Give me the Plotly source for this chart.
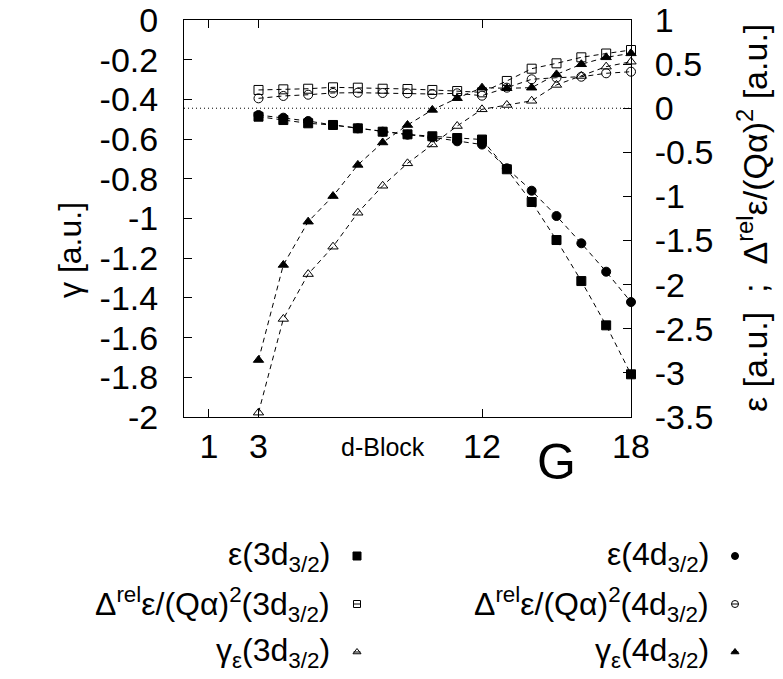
import plotly.graph_objects as go

# ---------------- data ----------------
elements = list(range(3, 19))  # group number G

eps_3d = [-0.096, -0.134, -0.171, -0.190, -0.228, -0.266, -0.296, -0.318, -0.338, -0.355,
          -0.692, -1.063, -1.494, -1.959, -2.461, -3.016]
eps_4d = [-0.077, -0.107, -0.145, -0.190, -0.228, -0.266, -0.300, -0.330, -0.375, -0.412,
          -0.681, -0.935, -1.222, -1.531, -1.853, -2.197]
delta_3d = [0.207, 0.214, 0.221, 0.237, 0.233, 0.221, 0.218, 0.207, 0.195, 0.180,
            0.309, 0.448, 0.509, 0.577, 0.620, 0.660]
delta_4d = [0.112, 0.139, 0.153, 0.173, 0.176, 0.173, 0.169, 0.161, 0.169, 0.142,
            0.233, 0.328, 0.346, 0.357, 0.396, 0.414]
gamma_3d = [-1.978, -1.506, -1.280, -1.142, -0.971, -0.835, -0.722, -0.627, -0.534, -0.450,
            -0.428, -0.407, -0.327, -0.282, -0.235, -0.210]
gamma_4d = [-1.713, -1.234, -1.016, -0.887, -0.730, -0.617, -0.529, -0.453, -0.394, -0.341,
            -0.344, -0.341, -0.274, -0.223, -0.188, -0.168]

x_tickvals = [1, 3, 12, 18]
x_ticktext = ["1", "3", "12", "18"]
gamma_tickvals = [0, -0.2, -0.4, -0.6, -0.8, -1.0, -1.2, -1.4, -1.6, -1.8, -2.0]
gamma_ticktext = ["0", "-0.2", "-0.4", "-0.6", "-0.8", "-1", "-1.2", "-1.4", "-1.6", "-1.8", "-2"]
eps_tickvals = [1, 0.5, 0, -0.5, -1, -1.5, -2, -2.5, -3, -3.5]
eps_ticktext = ["1", "0.5", "0", "-0.5", "-1", "-1.5", "-2", "-2.5", "-3", "-3.5"]

labels_3d = ["ε(3d<sub>3/2</sub>)",
             "Δ<sup>rel</sup>ε/(Qα)<sup>2</sup>(3d<sub>3/2</sub>)",
             "γ<sub>ε</sub>(3d<sub>3/2</sub>)"]
labels_4d = ["ε(4d<sub>3/2</sub>)",
             "Δ<sup>rel</sup>ε/(Qα)<sup>2</sup>(4d<sub>3/2</sub>)",
             "γ<sub>ε</sub>(4d<sub>3/2</sub>)"]

# ---------------- layout constants (pixels) ----------------
W, H = 783, 679
PL, PR, PT, PB = 184, 631, 20, 417
FONT = "Liberation Sans, Arial, sans-serif"
TICKFONT = 34

series = [
    (eps_3d, "y2", "square", labels_3d[0]),
    (eps_4d, "y2", "circle", labels_4d[0]),
    (delta_3d, "y2", "square-open", labels_3d[1]),
    (delta_4d, "y2", "circle-open", labels_4d[1]),
    (gamma_3d, "y", "triangle-up-open", labels_3d[2]),
    (gamma_4d, "y", "triangle-up", labels_4d[2]),
]

fig = go.Figure()
for vals, yax, sym, name in series:
    fig.add_trace(go.Scatter(
        x=elements, y=vals, xaxis="x", yaxis=yax, mode="lines+markers", name=name,
        showlegend=False, cliponaxis=False,
        line=dict(color="black", width=1, dash="5px,4px"),
        marker=dict(symbol=sym, size=9, color="black", line=dict(color="black", width=1)),
    ))

# ---- custom gnuplot-style key (text right-aligned, sample to the right) ----
key_rows = [556, 604, 652]
key_cols = [(332, 357), (711, 735)]
key_syms = [["square", "square-open", "triangle-up-open"],
            ["circle", "circle-open", "triangle-up"]]
key_sizes = {"square": 8, "circle": 7, "square-open": 7, "circle-open": 7,
             "triangle-up-open": 7, "triangle-up": 7}
annotations = []
for ci, (tx, kx) in enumerate(key_cols):
    labs = labels_3d if ci == 0 else labels_4d
    for ri, ky in enumerate(key_rows):
        sym = key_syms[ci][ri]
        fig.add_trace(go.Scatter(x=[kx - 3.5, kx + 3.5], y=[ky, ky], xaxis="x3", yaxis="y3",
                                 mode="lines", line=dict(color="black", width=1),
                                 showlegend=False, hoverinfo="skip"))
        fig.add_trace(go.Scatter(x=[kx], y=[ky], xaxis="x3", yaxis="y3", mode="markers",
                                 marker=dict(symbol=sym, size=key_sizes[sym], color="black",
                                             line=dict(color="black", width=1)),
                                 showlegend=False, hoverinfo="skip"))
        annotations.append(dict(x=tx, y=ky, xref="x3", yref="y3", text=labs[ri],
                                showarrow=False, xanchor="right", yanchor="middle",
                                font=dict(family=FONT, size=32, color="black")))

# axis titles and extra x labels
annotations += [
    dict(x=70, y=250, xref="x3", yref="y3", text="γ [a.u.]", textangle=-90,
         showarrow=False, xanchor="center", yanchor="middle",
         font=dict(family=FONT, size=32, color="black")),
    dict(x=752, y=218, xref="x3", yref="y3",
         text="ε [a.u.]\u00a0\u00a0;\u00a0\u00a0Δ<sup>rel</sup>ε/(Qα)<sup>2</sup> [a.u.]",
         textangle=-90, showarrow=False, xanchor="center", yanchor="middle",
         font=dict(family=FONT, size=34, color="black")),
    dict(x=8, y=447, xref="x", yref="y3", text="d-Block", showarrow=False,
         xanchor="center", yanchor="middle", font=dict(family=FONT, size=25, color="black")),
    dict(x=15, y=462, xref="x", yref="y3", text="G", showarrow=False,
         xanchor="center", yanchor="middle", font=dict(family=FONT, size=50, color="black")),
]

fig.update_layout(
    width=W, height=H, autosize=False,
    margin=dict(l=0, r=0, t=0, b=0, autoexpand=False),
    paper_bgcolor="white", plot_bgcolor="rgba(0,0,0,0)",
    showlegend=False,
    font=dict(family=FONT, color="black"),
    xaxis=dict(domain=[PL / W, PR / W], range=[0, 18], anchor="y", automargin=False,
               tickvals=x_tickvals, ticktext=x_ticktext, ticks="inside", ticklen=8,
               tickwidth=1, tickcolor="black", showline=True, linecolor="black", linewidth=1,
               mirror="ticks", showgrid=False, zeroline=False, ticklabelstandoff=-1,
               tickfont=dict(family=FONT, size=TICKFONT, color="black")),
    yaxis=dict(domain=[(H - PB) / H, (H - PT) / H], range=[-2, 0], anchor="x", automargin=False,
               tickvals=gamma_tickvals, ticktext=gamma_ticktext, ticks="inside", ticklen=8,
               tickwidth=1, tickcolor="black", showline=True, linecolor="black", linewidth=1,
               showgrid=False, zeroline=False, ticklabelstandoff=18,
               tickfont=dict(family=FONT, size=TICKFONT, color="black")),
    yaxis2=dict(overlaying="y", side="right", range=[-3.5, 1], anchor="x", automargin=False,
                tickvals=eps_tickvals, ticktext=eps_ticktext, ticks="inside", ticklen=8,
                tickwidth=1, tickcolor="black", showline=True, linecolor="black", linewidth=1,
                showgrid=False, zeroline=False, ticklabelstandoff=16,
                tickfont=dict(family=FONT, size=TICKFONT, color="black")),
    xaxis3=dict(domain=[0, 1], range=[0, W], anchor="y3", visible=False, fixedrange=True,
                automargin=False),
    yaxis3=dict(domain=[0, 1], range=[H, 0], anchor="x3", visible=False, fixedrange=True,
                automargin=False),
    annotations=annotations,
    shapes=[dict(type="line", xref="x domain", yref="y2", x0=0, x1=1, y0=0, y1=0,
                 line=dict(color="black", width=1, dash="1px,3px"))],
)

fig.write_html("out.html")
